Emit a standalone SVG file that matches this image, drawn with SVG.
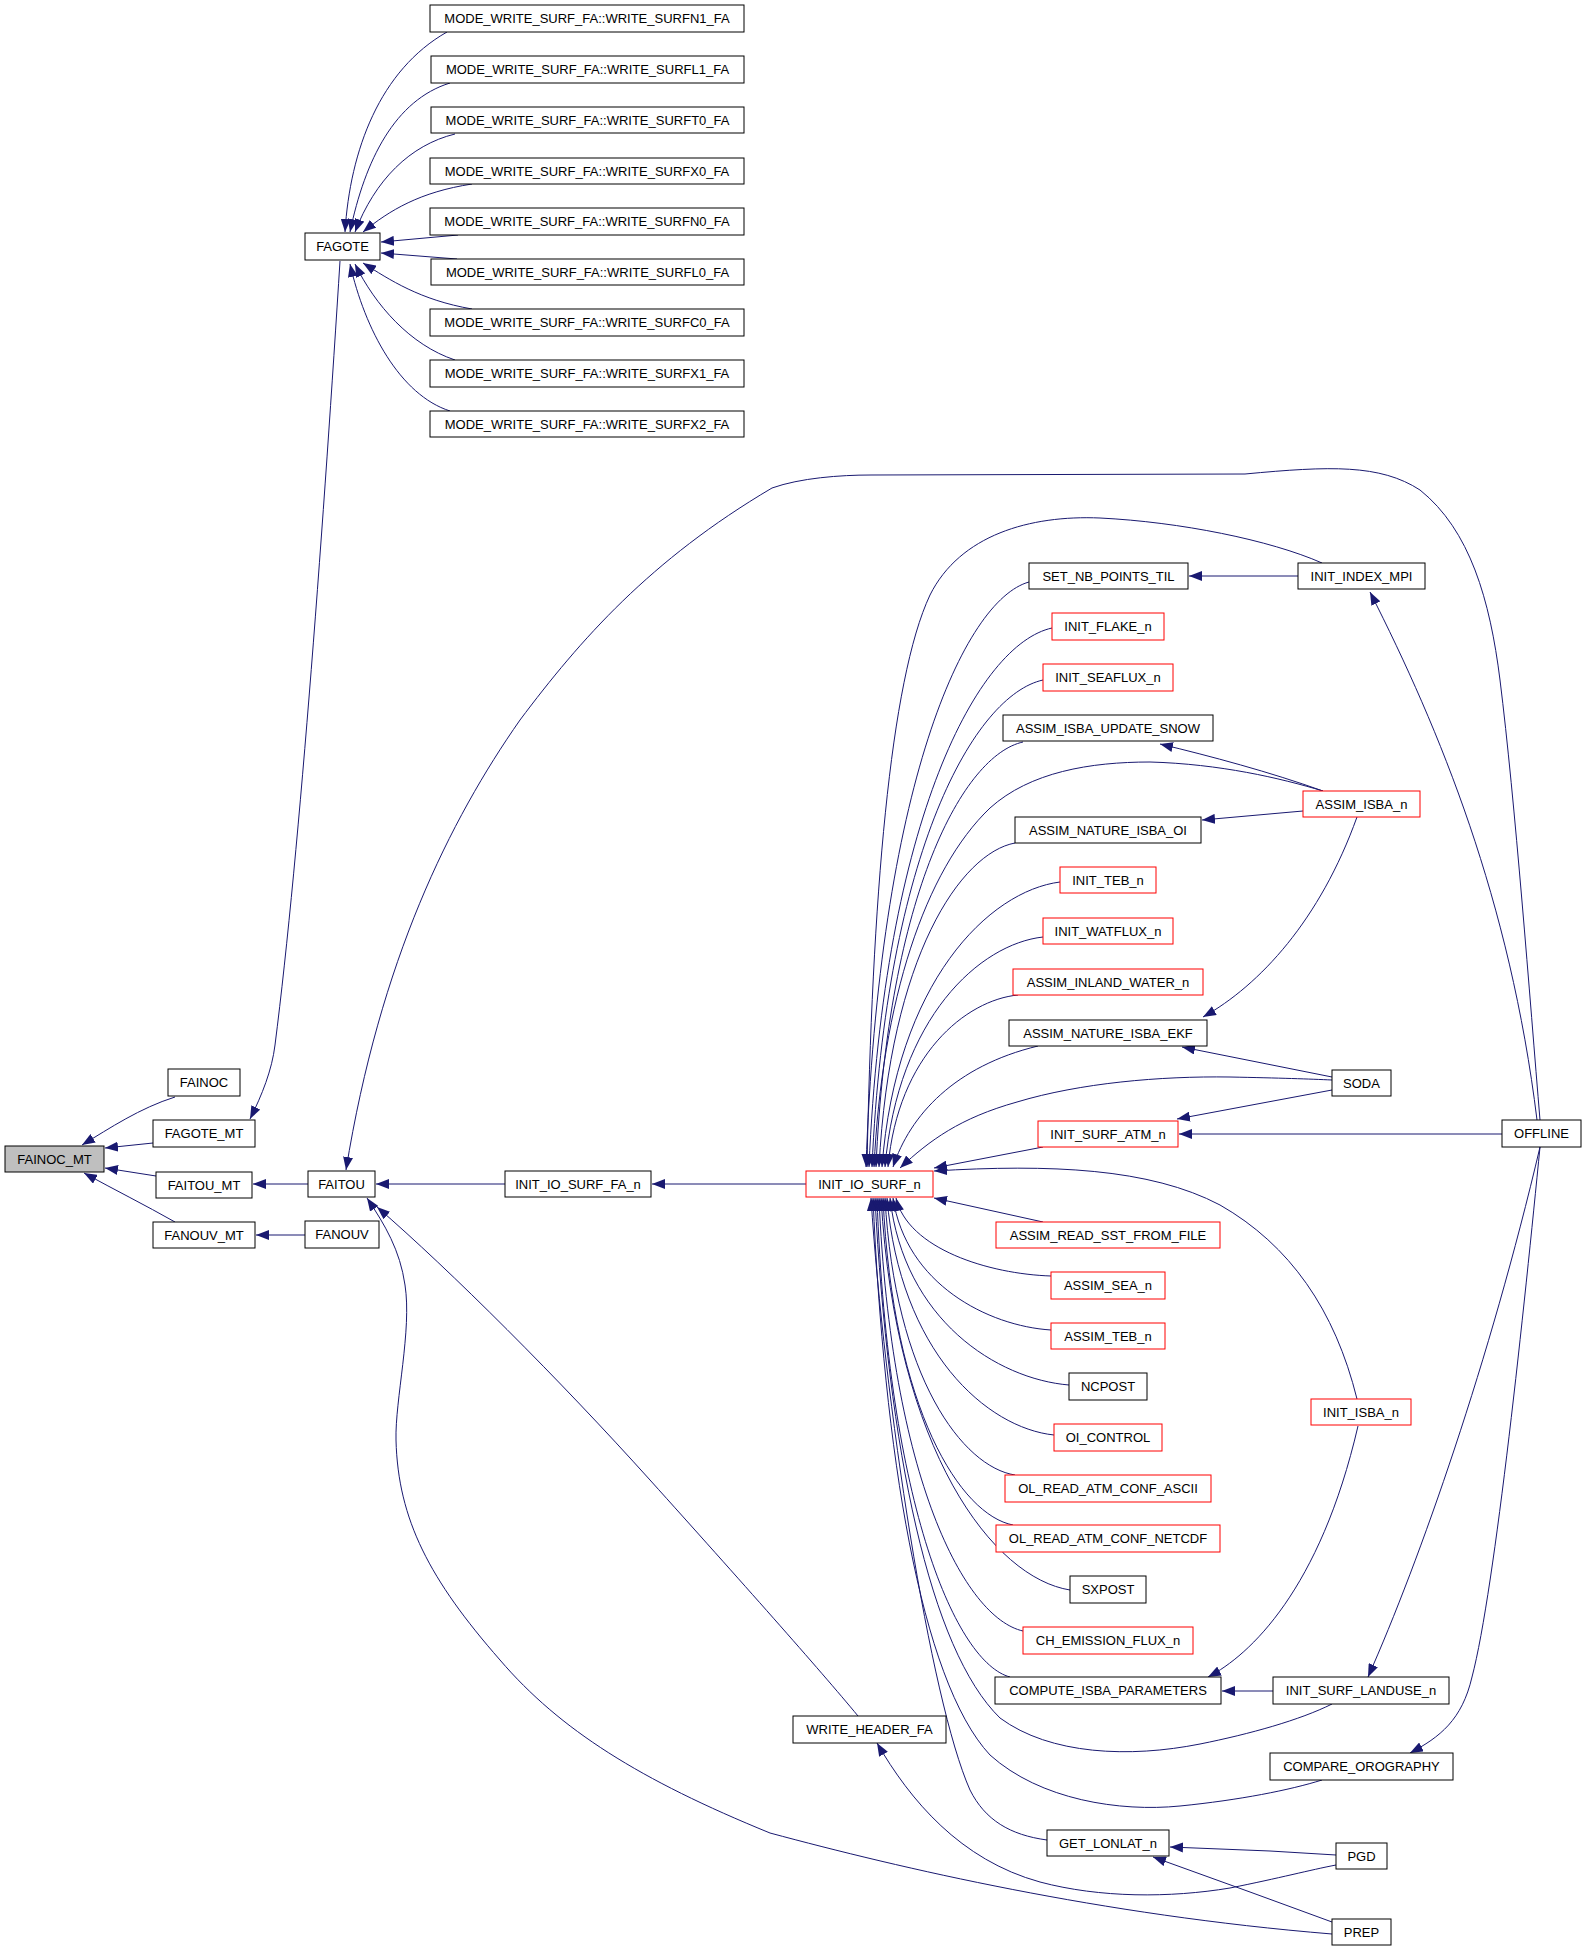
<svg xmlns="http://www.w3.org/2000/svg" width="1587" height="1951" viewBox="0 0 1587 1951">
<defs>
<marker id="a" markerUnits="userSpaceOnUse" markerWidth="13" markerHeight="10" viewBox="0 0 13 10" refX="13" refY="5" orient="auto-start-reverse">
<path d="M0,0 L13,5 L0,10 z" fill="#191970"/>
</marker>
<style>
.n rect{fill:#ffffff;stroke:#000000;stroke-width:1}
.r rect{stroke:#ff0000}
.g rect{fill:#bfbfbf}
.n text{font-family:"Liberation Sans",Arial,sans-serif;font-size:13px;fill:#000000;text-anchor:middle}
#edges path{fill:none;stroke:#191970;stroke-width:1;marker-start:url(#a)}
</style>
</defs>
<rect x="0" y="0" width="1587" height="1951" fill="#ffffff"/>
<g id="edges">
<path d="M82,1145 C110,1128 140,1108 175,1097"/>
<path d="M105,1148 L153,1143"/>
<path d="M105,1168 L156,1176"/>
<path d="M84,1173 C115,1190 145,1205 175,1222"/>
<path d="M250,1119 C262,1095 272,1070 275,1045 C300,850 325,500 340,261"/>
<path d="M345,232 C350,150 380,70 447,32"/>
<path d="M350,232 C365,160 395,100 450,83"/>
<path d="M355,232 C375,180 410,145 455,134"/>
<path d="M363,232 C390,210 420,192 472,184"/>
<path d="M381,242 L458,235"/>
<path d="M381,253 L457,259"/>
<path d="M363,263 C390,280 420,300 472,309"/>
<path d="M355,264 C375,305 410,345 455,360"/>
<path d="M350,264 C365,330 400,395 450,411"/>
<path d="M253,1184 L308,1184"/>
<path d="M256,1235 L305,1235"/>
<path d="M376,1184 L505,1184"/>
<path d="M652,1184 L806,1184"/>
<path d="M346,1170 C380,960 450,820 520,720 C580,640 650,560 772,488 C800,478 840,475 871,475 L1245,474 C1330,466 1380,464 1420,490 C1470,530 1490,600 1500,680 C1515,800 1530,1000 1540,1120"/>
<path d="M367,1198 C385,1225 400,1250 405,1285 C412,1330 395,1400 396,1440 C398,1520 430,1580 500,1660 C560,1730 640,1780 770,1833 C900,1868 1100,1915 1332,1934"/>
<path d="M377,1207 C450,1270 560,1380 650,1480 C740,1580 820,1670 858,1716"/>
<path d="M877,1743 C910,1800 960,1860 1040,1882 C1100,1898 1170,1898 1230,1888 C1280,1878 1310,1870 1336,1865"/>
<path d="M1170,1847 L1270,1851 L1336,1855"/>
<path d="M1153,1857 L1250,1892 L1332,1922"/>
<path d="M1189,576 L1298,576"/>
<path d="M1370,592 C1440,730 1510,900 1537,1120"/>
<path d="M866,1167 C879,787 964,600 1029,582"/>
<path d="M869,1167 C884,817 979,644 1052,628"/>
<path d="M872,1167 C886,850 975,695 1043,680"/>
<path d="M876,1167 C888,891 964,755 1023,742"/>
<path d="M879,1167 C890,956 961,853 1015,843"/>
<path d="M882,1167 C896,982 989,891 1060,882"/>
<path d="M885,1167 C898,1017 980,944 1043,937"/>
<path d="M888,1167 C898,1055 966,1000 1018,995"/>
<path d="M893,1167 C910,1115 955,1066 1038,1046"/>
<path d="M900,1168 C930,1140 960,1118 1017,1102 C1080,1083 1160,1076 1230,1077 C1280,1078 1310,1079 1332,1080"/>
<path d="M867,1167 C872,900 890,680 930,595 C960,535 1030,515 1100,518 C1180,522 1270,540 1322,563"/>
<path d="M874,1167 C882,1000 925,870 990,808 C1030,772 1090,762 1150,762 C1220,764 1280,778 1323,791"/>
<path d="M1160,744 C1210,756 1270,772 1323,791"/>
<path d="M1202,820 L1303,811"/>
<path d="M1203,1017 C1260,985 1320,920 1357,817"/>
<path d="M1182,1047 L1332,1077"/>
<path d="M1177,1119 L1332,1090"/>
<path d="M1179,1134 L1502,1134"/>
<path d="M934,1168 L1043,1147"/>
<path d="M934,1171 C1050,1164 1150,1168 1220,1205 C1290,1245 1335,1310 1357,1399"/>
<path d="M934,1198 L1043,1222"/>
<path d="M896,1198 C908,1249 989,1274 1051,1276"/>
<path d="M893,1198 C906,1284 988,1326 1051,1330"/>
<path d="M890,1198 C904,1320 997,1379 1069,1385"/>
<path d="M887,1198 C900,1352 987,1428 1054,1435"/>
<path d="M885,1198 C895,1378 963,1467 1015,1475"/>
<path d="M883,1198 C893,1411 961,1515 1013,1525"/>
<path d="M881,1198 C896,1453 994,1578 1070,1590"/>
<path d="M879,1198 C891,1479 965,1618 1023,1631"/>
<path d="M877,1198 C888,1509 957,1663 1010,1677"/>
<path d="M875,1198 C888,1450 930,1650 1000,1718 C1050,1755 1130,1758 1200,1744 C1250,1734 1300,1720 1332,1704"/>
<path d="M873,1198 C884,1450 920,1680 990,1755 C1040,1800 1120,1812 1180,1806 C1240,1800 1290,1790 1322,1780"/>
<path d="M871,1198 C884,1400 930,1700 970,1790 C985,1820 1010,1835 1047,1840"/>
<path d="M1208,1677 C1250,1655 1320,1590 1358,1426"/>
<path d="M1222,1691 L1273,1691"/>
<path d="M1368,1677 C1420,1560 1490,1360 1540,1147"/>
<path d="M1410,1753 C1440,1737 1462,1720 1472,1677 C1495,1590 1525,1300 1540,1147"/>
</g>
<g id="n_fainoc_mt" class="n g"><rect x="5" y="1146" width="99" height="26"/><text x="54.5" y="1163.5">FAINOC_MT</text></g>
<g id="n_fainoc" class="n"><rect x="168" y="1069" width="72" height="27"/><text x="204" y="1087">FAINOC</text></g>
<g id="n_fagote_mt" class="n"><rect x="153" y="1120" width="102" height="27"/><text x="204" y="1138">FAGOTE_MT</text></g>
<g id="n_faitou_mt" class="n"><rect x="156" y="1172" width="96" height="26"/><text x="204" y="1189.5">FAITOU_MT</text></g>
<g id="n_fanouv_mt" class="n"><rect x="153" y="1222" width="102" height="26"/><text x="204" y="1239.5">FANOUV_MT</text></g>
<g id="n_fagote" class="n"><rect x="305" y="233" width="75" height="27"/><text x="342.5" y="251">FAGOTE</text></g>
<g id="n_n1" class="n"><rect x="430" y="5" width="314" height="27"/><text x="587" y="23">MODE_WRITE_SURF_FA::WRITE_SURFN1_FA</text></g>
<g id="n_l1" class="n"><rect x="431" y="56" width="313" height="27"/><text x="587.5" y="74">MODE_WRITE_SURF_FA::WRITE_SURFL1_FA</text></g>
<g id="n_t0" class="n"><rect x="431" y="107" width="313" height="26"/><text x="587.5" y="124.5">MODE_WRITE_SURF_FA::WRITE_SURFT0_FA</text></g>
<g id="n_x0" class="n"><rect x="430" y="158" width="314" height="26"/><text x="587" y="175.5">MODE_WRITE_SURF_FA::WRITE_SURFX0_FA</text></g>
<g id="n_n0" class="n"><rect x="430" y="208" width="314" height="27"/><text x="587" y="226">MODE_WRITE_SURF_FA::WRITE_SURFN0_FA</text></g>
<g id="n_l0" class="n"><rect x="431" y="259" width="313" height="26"/><text x="587.5" y="276.5">MODE_WRITE_SURF_FA::WRITE_SURFL0_FA</text></g>
<g id="n_c0" class="n"><rect x="430" y="309" width="314" height="27"/><text x="587" y="327">MODE_WRITE_SURF_FA::WRITE_SURFC0_FA</text></g>
<g id="n_x1" class="n"><rect x="430" y="360" width="314" height="27"/><text x="587" y="378">MODE_WRITE_SURF_FA::WRITE_SURFX1_FA</text></g>
<g id="n_x2" class="n"><rect x="430" y="411" width="314" height="26"/><text x="587" y="428.5">MODE_WRITE_SURF_FA::WRITE_SURFX2_FA</text></g>
<g id="n_faitou" class="n"><rect x="308" y="1171" width="67" height="26"/><text x="341.5" y="1188.5">FAITOU</text></g>
<g id="n_fanouv" class="n"><rect x="305" y="1221" width="74" height="27"/><text x="342" y="1239">FANOUV</text></g>
<g id="n_iosfa" class="n"><rect x="505" y="1171" width="146" height="26"/><text x="578" y="1188.5">INIT_IO_SURF_FA_n</text></g>
<g id="n_whfa" class="n"><rect x="793" y="1716" width="153" height="27"/><text x="869.5" y="1734">WRITE_HEADER_FA</text></g>
<g id="n_ios" class="n r"><rect x="806" y="1171" width="127" height="26"/><text x="869.5" y="1188.5">INIT_IO_SURF_n</text></g>
<g id="n_setnb" class="n"><rect x="1029" y="563" width="159" height="26"/><text x="1108.5" y="580.5">SET_NB_POINTS_TIL</text></g>
<g id="n_idxmpi" class="n"><rect x="1298" y="563" width="127" height="26"/><text x="1361.5" y="580.5">INIT_INDEX_MPI</text></g>
<g id="n_flake" class="n r"><rect x="1052" y="613" width="112" height="27"/><text x="1108" y="631">INIT_FLAKE_n</text></g>
<g id="n_seaflux" class="n r"><rect x="1043" y="664" width="130" height="27"/><text x="1108" y="682">INIT_SEAFLUX_n</text></g>
<g id="n_snow" class="n"><rect x="1003" y="715" width="210" height="26"/><text x="1108" y="732.5">ASSIM_ISBA_UPDATE_SNOW</text></g>
<g id="n_assimisba" class="n r"><rect x="1303" y="791" width="117" height="26"/><text x="1361.5" y="808.5">ASSIM_ISBA_n</text></g>
<g id="n_oi" class="n"><rect x="1015" y="817" width="186" height="26"/><text x="1108" y="834.5">ASSIM_NATURE_ISBA_OI</text></g>
<g id="n_teb" class="n r"><rect x="1060" y="867" width="96" height="26"/><text x="1108" y="884.5">INIT_TEB_n</text></g>
<g id="n_watflux" class="n r"><rect x="1043" y="918" width="130" height="26"/><text x="1108" y="935.5">INIT_WATFLUX_n</text></g>
<g id="n_inland" class="n r"><rect x="1013" y="969" width="190" height="26"/><text x="1108" y="986.5">ASSIM_INLAND_WATER_n</text></g>
<g id="n_ekf" class="n"><rect x="1009" y="1020" width="198" height="26"/><text x="1108" y="1037.5">ASSIM_NATURE_ISBA_EKF</text></g>
<g id="n_soda" class="n"><rect x="1332" y="1070" width="59" height="26"/><text x="1361.5" y="1087.5">SODA</text></g>
<g id="n_surfatm" class="n r"><rect x="1038" y="1121" width="140" height="26"/><text x="1108" y="1138.5">INIT_SURF_ATM_n</text></g>
<g id="n_offline" class="n"><rect x="1502" y="1120" width="79" height="27"/><text x="1541.5" y="1138">OFFLINE</text></g>
<g id="n_sst" class="n r"><rect x="996" y="1222" width="224" height="26"/><text x="1108" y="1239.5">ASSIM_READ_SST_FROM_FILE</text></g>
<g id="n_sea" class="n r"><rect x="1051" y="1272" width="114" height="27"/><text x="1108" y="1290">ASSIM_SEA_n</text></g>
<g id="n_assimteb" class="n r"><rect x="1051" y="1323" width="114" height="26"/><text x="1108" y="1340.5">ASSIM_TEB_n</text></g>
<g id="n_ncpost" class="n"><rect x="1069" y="1373" width="78" height="27"/><text x="1108" y="1391">NCPOST</text></g>
<g id="n_oicontrol" class="n r"><rect x="1054" y="1424" width="108" height="27"/><text x="1108" y="1442">OI_CONTROL</text></g>
<g id="n_initisba" class="n r"><rect x="1311" y="1399" width="100" height="26"/><text x="1361" y="1416.5">INIT_ISBA_n</text></g>
<g id="n_olascii" class="n r"><rect x="1005" y="1475" width="206" height="27"/><text x="1108" y="1493">OL_READ_ATM_CONF_ASCII</text></g>
<g id="n_olnetcdf" class="n r"><rect x="996" y="1525" width="224" height="27"/><text x="1108" y="1543">OL_READ_ATM_CONF_NETCDF</text></g>
<g id="n_sxpost" class="n"><rect x="1070" y="1576" width="76" height="27"/><text x="1108" y="1594">SXPOST</text></g>
<g id="n_chem" class="n r"><rect x="1023" y="1627" width="170" height="27"/><text x="1108" y="1645">CH_EMISSION_FLUX_n</text></g>
<g id="n_compute" class="n"><rect x="995" y="1677" width="226" height="27"/><text x="1108" y="1695">COMPUTE_ISBA_PARAMETERS</text></g>
<g id="n_landuse" class="n"><rect x="1273" y="1677" width="176" height="27"/><text x="1361" y="1695">INIT_SURF_LANDUSE_n</text></g>
<g id="n_compare" class="n"><rect x="1270" y="1753" width="183" height="27"/><text x="1361.5" y="1771">COMPARE_OROGRAPHY</text></g>
<g id="n_getlonlat" class="n"><rect x="1047" y="1830" width="122" height="26"/><text x="1108" y="1847.5">GET_LONLAT_n</text></g>
<g id="n_pgd" class="n"><rect x="1336" y="1843" width="51" height="26"/><text x="1361.5" y="1860.5">PGD</text></g>
<g id="n_prep" class="n"><rect x="1332" y="1919" width="59" height="26"/><text x="1361.5" y="1936.5">PREP</text></g>
</svg>
